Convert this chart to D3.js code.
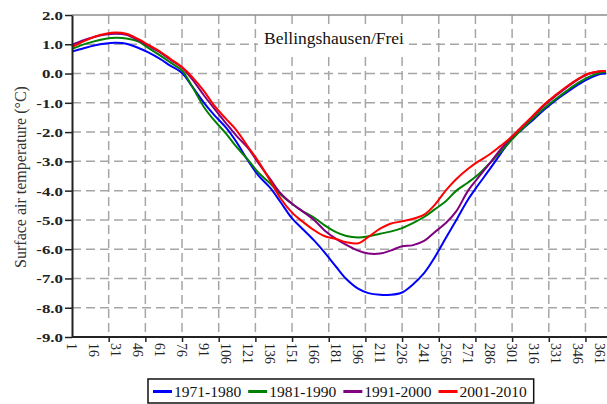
<!DOCTYPE html>
<html>
<head>
<meta charset="utf-8">
<script src="https://cdn.jsdelivr.net/npm/d3@7"></script>
<style>
  html, body { margin: 0; padding: 0; background: #fff; }
  svg { display: block; }
</style>
</head>
<body>
<svg id="chart" width="607" height="404"></svg>
<script>
// Day of year at which each value is sampled
const days = [1, 8, 16, 24, 31, 38, 46, 53, 61, 68, 76, 83, 91, 98, 106, 113, 121, 128, 136, 143,
  151, 158, 166, 173, 181, 188, 196, 203, 211, 218, 226, 233, 241, 248, 256, 263, 271, 278, 286, 293,
  301, 308, 316, 323, 331, 338, 346, 353, 361, 365];

// Mean daily surface air temperature (°C) per decade
const t1971 = [0.75, 0.85, 0.96, 1.03, 1.05, 1.02, 0.88, 0.72, 0.50, 0.27, 0.02, -0.45, -1.00, -1.42, -1.85, -2.33, -2.98, -3.48, -3.90, -4.38,
  -4.95, -5.30, -5.70, -6.10, -6.60, -7.02, -7.35, -7.50, -7.56, -7.56, -7.48, -7.22, -6.82, -6.30, -5.60, -5.00, -4.30, -3.80, -3.25, -2.75,
  -2.22, -1.90, -1.55, -1.23, -0.90, -0.65, -0.38, -0.18, -0.02, 0.00];
const t1981 = [0.84, 0.98, 1.10, 1.19, 1.22, 1.20, 1.10, 0.88, 0.62, 0.38, 0.10, -0.45, -1.15, -1.60, -2.05, -2.50, -2.95, -3.38, -3.75, -4.12,
  -4.45, -4.70, -4.92, -5.18, -5.42, -5.55, -5.60, -5.56, -5.47, -5.40, -5.28, -5.12, -4.90, -4.65, -4.35, -4.00, -3.72, -3.45, -3.05, -2.68,
  -2.25, -1.88, -1.50, -1.18, -0.86, -0.60, -0.32, -0.12, 0.03, 0.05];
const t1991 = [0.98, 1.12, 1.25, 1.33, 1.36, 1.32, 1.14, 0.95, 0.72, 0.47, 0.20, -0.20, -0.75, -1.20, -1.70, -2.12, -2.55, -3.05, -3.60, -4.08,
  -4.45, -4.70, -5.00, -5.35, -5.65, -5.85, -6.05, -6.15, -6.15, -6.05, -5.90, -5.87, -5.72, -5.43, -5.10, -4.70, -4.00, -3.55, -3.05, -2.60,
  -2.15, -1.80, -1.42, -1.08, -0.75, -0.48, -0.20, -0.02, 0.08, 0.08];
const t2001 = [0.90, 1.08, 1.25, 1.36, 1.40, 1.36, 1.18, 0.98, 0.75, 0.50, 0.22, -0.12, -0.60, -1.10, -1.55, -1.93, -2.50, -3.00, -3.65, -4.25,
  -4.75, -5.05, -5.35, -5.55, -5.65, -5.76, -5.80, -5.58, -5.30, -5.13, -5.05, -4.97, -4.82, -4.50, -3.98, -3.60, -3.25, -3.00, -2.75, -2.48,
  -2.15, -1.80, -1.40, -1.05, -0.72, -0.45, -0.18, 0.00, 0.08, 0.08];

const seriesNames = ["1971-1980", "1981-1990", "1991-2000", "2001-2010"];
const seriesValues = [t1971, t1981, t1991, t2001];
const seriesColors = ["#0000ff", "#008000", "#800080", "#ff0000"];

// Axis labelling
const xLabelDays = [1, 16, 31, 46, 61, 76, 91, 106, 121, 136, 151, 166, 181, 196, 211, 226, 241, 256, 271, 286, 301, 316, 331, 346, 361];
const xTickDays = [26, 51, 76, 101, 126, 151, 176, 201, 226, 251, 276, 301, 326, 351];
const yTicks = [2, 1, 0, -1, -2, -3, -4, -5, -6, -7, -8, -9];
const yTickLabels = ["2.0", "1.0", "0.0", "-1.0", "-2.0", "-3.0", "-4.0", "-5.0", "-6.0", "-7.0", "-8.0", "-9.0"];
const chartTitle = "Bellingshausen/Frei";
const yTitle = "Surface air temperature (°C)";

const svg = d3.select("#chart");
const serif = "'Liberation Serif', 'Times New Roman', serif";

const plot = { left: 72, right: 607, top: 15, bottom: 337 };
const x = d3.scaleLinear().domain([1, 365]).range([plot.left, 606]);
const y = d3.scaleLinear().domain([-9, 2]).range([plot.bottom, plot.top]);

const gridColor = "#a6a6a6";
const dash = "9,5";

// Horizontal gridlines
svg.append("g").selectAll("line")
  .data(yTicks.filter(v => v < 2 && v > -9))
  .join("line")
  .attr("x1", plot.left).attr("x2", plot.right)
  .attr("y1", d => y(d)).attr("y2", d => y(d))
  .attr("stroke", gridColor).attr("stroke-width", 1.5)
  .attr("stroke-dasharray", dash);

// Vertical gridlines
svg.append("g").selectAll("line")
  .data(xTickDays)
  .join("line")
  .attr("x1", d => x(d)).attr("x2", d => x(d))
  .attr("y1", plot.top).attr("y2", plot.bottom)
  .attr("stroke", gridColor).attr("stroke-width", 1.5)
  .attr("stroke-dasharray", dash);

// Top border of plot area
svg.append("line")
  .attr("x1", plot.left).attr("x2", plot.right)
  .attr("y1", y(2)).attr("y2", y(2))
  .attr("stroke", "#8c8c8c").attr("stroke-width", 1.5);

// Station name box
const titleG = svg.append("g");
titleG.append("rect")
  .attr("x", 258).attr("y", 26).attr("width", 151).attr("height", 29)
  .attr("fill", "#fff");
titleG.append("text")
  .attr("x", 334).attr("y", 44)
  .attr("text-anchor", "middle")
  .attr("font-family", serif).attr("font-size", 17.5)
  .attr("fill", "#111")
  .text(chartTitle);

// Temperature curves
const line = d3.line()
  .x((d, i) => x(days[i]))
  .y(d => y(d))
  .curve(d3.curveCatmullRom.alpha(0.5));

svg.append("g").selectAll("path")
  .data(seriesValues)
  .join("path")
  .attr("d", d => line(d))
  .attr("fill", "none")
  .attr("stroke", (d, i) => seriesColors[i])
  .attr("stroke-width", 2)
  .attr("stroke-linejoin", "round");

// Y axis
const yAxis = d3.axisLeft(y)
  .tickValues(yTicks)
  .tickFormat((d, i) => yTickLabels[i])
  .tickSize(7)
  .tickSizeOuter(0);
const yg = svg.append("g")
  .attr("transform", `translate(${plot.left},0)`)
  .call(yAxis);
yg.select(".domain").attr("stroke", "#222").attr("stroke-width", 2);
yg.selectAll(".tick line").attr("stroke", "#222").attr("stroke-width", 1.5);
yg.selectAll(".tick text")
  .attr("font-family", serif).attr("font-size", 13).attr("font-weight", "bold")
  .attr("fill", "#222")
  .attr("x", 0).attr("dy", "0.34em")
  .attr("transform", "translate(-9,0) scale(1.3,1)");

// X axis: tick marks at gridlines, labels every 15 days
const xAxis = d3.axisBottom(x)
  .tickValues(xTickDays)
  .tickFormat("")
  .tickSize(5)
  .tickSizeOuter(0);
const xg = svg.append("g")
  .attr("transform", `translate(0,${plot.bottom})`)
  .call(xAxis);
xg.select(".domain").attr("stroke", "#222").attr("stroke-width", 2)
  .attr("d", `M${plot.left},0H${plot.right}`);
xg.selectAll(".tick line").attr("stroke", "#222").attr("stroke-width", 1.5);

svg.append("g").selectAll("text")
  .data(xLabelDays)
  .join("text")
  .attr("transform", d => `translate(${x(d)},${plot.bottom + 6}) rotate(90)`)
  .attr("dy", "0.35em")
  .attr("text-anchor", "start")
  .attr("font-family", serif).attr("font-size", 14)
  .attr("fill", "#222")
  .text(d => d);

// Y axis title
svg.append("text")
  .attr("transform", `translate(20,177) rotate(-90)`)
  .attr("text-anchor", "middle")
  .attr("dy", "0.35em")
  .attr("font-family", serif).attr("font-size", 16)
  .attr("fill", "#333")
  .text(yTitle);

// Legend
const legend = svg.append("g");
const legendBox = legend.append("rect")
  .attr("y", 379).attr("height", 24)
  .attr("fill", "#fff").attr("stroke", "#111").attr("stroke-width", 1.5);
let lx = 153;
seriesNames.forEach((name, i) => {
  legend.append("line")
    .attr("x1", lx).attr("x2", lx + 19)
    .attr("y1", 391.5).attr("y2", 391.5)
    .attr("stroke", seriesColors[i]).attr("stroke-width", 3);
  const t = legend.append("text")
    .attr("x", lx + 21).attr("y", 397)
    .attr("font-family", serif).attr("font-size", 15.5)
    .attr("fill", "#111")
    .text(name);
  lx += 21 + t.node().getComputedTextLength() + 7;
});
legendBox.attr("x", 148).attr("width", lx - 148);
</script>
</body>
</html>
